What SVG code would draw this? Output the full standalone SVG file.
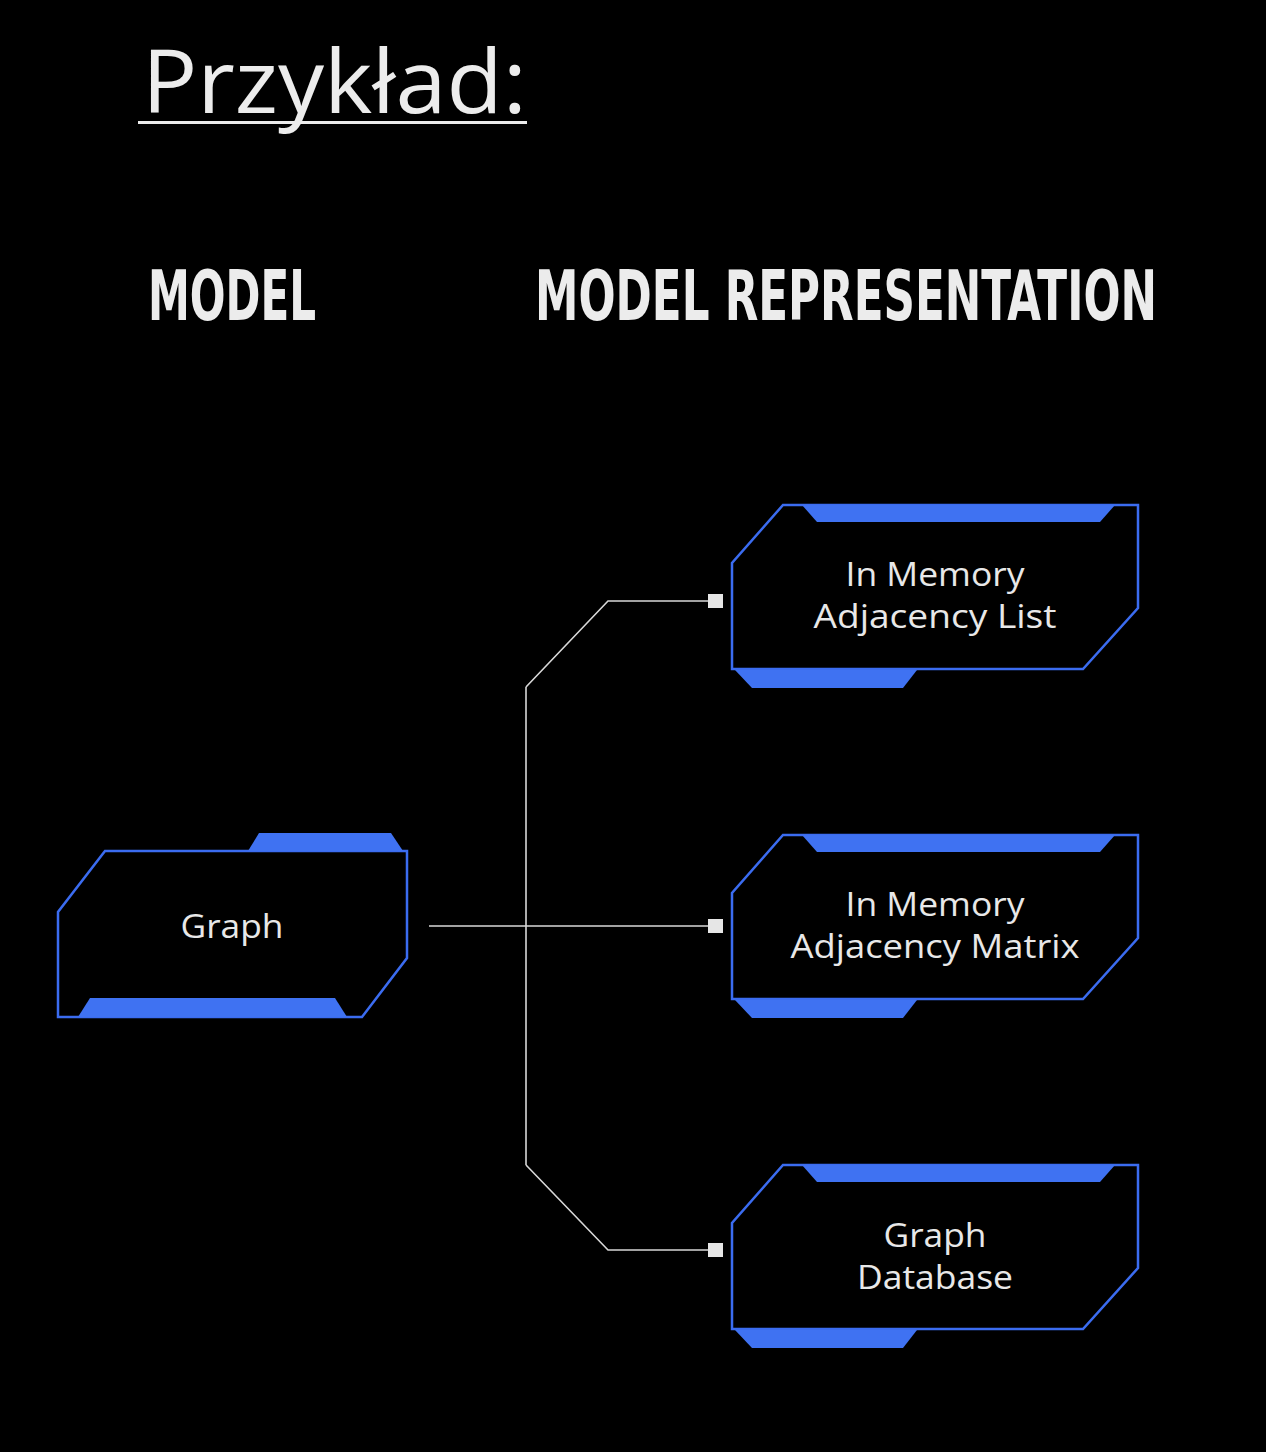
<svg xmlns="http://www.w3.org/2000/svg" width="1266" height="1452" viewBox="0 0 1266 1452">
<defs>
<style>
.bg{fill:#000}
.outline{fill:#000;stroke:#3b6cf0;stroke-width:2.5;stroke-linejoin:miter}
.tab{fill:#3f72f2}
.lbl{fill:#e8e8e8;font-family:"Open Sans","Noto Sans","Liberation Sans",sans-serif;font-size:33px;text-anchor:middle}
.title{fill:#ececec;font-family:"Open Sans","Liberation Sans",sans-serif;font-size:88px;font-weight:400}
.head{fill:#ececec;font-family:"Liberation Sans Narrow","DejaVu Sans Condensed","Liberation Sans",sans-serif;font-size:69px;font-weight:bold}
.wire{fill:none;stroke:#d8d8d8;stroke-width:1.6}
.end{fill:#e6e6e6}
</style>
<g id="rightShape">
<path class="outline" d="M783,505 L1138,505 L1138,608 L1083,669 L732,669 L732,563 Z"/>
<path class="tab" d="M802,505 L1115,505 L1100,522 L817,522 Z"/>
<path class="tab" d="M735,670 L917,670 L903,688 L752,688 Z"/>
</g>
</defs>
<rect class="bg" x="0" y="0" width="1266" height="1452"/>

<g id="title">
<text class="title" x="142" y="113" textLength="385" lengthAdjust="spacingAndGlyphs">Przykład:</text>
<rect x="138" y="121" width="389" height="3" fill="#ececec"/>
</g>

<g id="headings">
<text class="head" transform="translate(148,320) scale(0.7,1)" x="0" y="0" textLength="240" lengthAdjust="spacingAndGlyphs">MODEL</text>
<text class="head" transform="translate(535,320) scale(0.7,1)" x="0" y="0" textLength="888.6" lengthAdjust="spacingAndGlyphs">MODEL REPRESENTATION</text>
</g>

<g id="connectors">
<line class="wire" x1="526" y1="687" x2="526" y2="1165" stroke="#bdbdbd"/>
<polyline class="wire" points="526,687 608,601 709,601"/>
<polyline class="wire" points="526,1165 608,1250 709,1250"/>
<line class="wire" x1="429" y1="926" x2="709" y2="926"/>
<rect class="end" x="708" y="594" width="15" height="14"/>
<rect class="end" x="708" y="919" width="15" height="14"/>
<rect class="end" x="708" y="1243" width="15" height="14"/>
</g>

<g id="node-graph">
<path class="outline" d="M105,851 L407,851 L407,958 L362,1017 L58,1017 L58,912 Z"/>
<path class="tab" d="M248,851 L259,833 L391,833 L403,851 Z"/>
<path class="tab" d="M78,1017 L90,998 L335,998 L347,1017 Z"/>
<text class="lbl" x="232" y="938" textLength="103" lengthAdjust="spacingAndGlyphs">Graph</text>
</g>

<g id="node-list">
<use href="#rightShape"/>
<text class="lbl" x="935" y="586" textLength="179" lengthAdjust="spacingAndGlyphs">In Memory</text>
<text class="lbl" x="935" y="628" textLength="243" lengthAdjust="spacingAndGlyphs">Adjacency List</text>
</g>

<g id="node-matrix">
<use href="#rightShape" transform="translate(0,330)"/>
<text class="lbl" x="935" y="916" textLength="179" lengthAdjust="spacingAndGlyphs">In Memory</text>
<text class="lbl" x="935" y="958" textLength="289" lengthAdjust="spacingAndGlyphs">Adjacency Matrix</text>
</g>

<g id="node-db">
<use href="#rightShape" transform="translate(0,660)"/>
<text class="lbl" x="935" y="1247" textLength="103" lengthAdjust="spacingAndGlyphs">Graph</text>
<text class="lbl" x="935" y="1289" textLength="156" lengthAdjust="spacingAndGlyphs">Database</text>
</g>
</svg>
